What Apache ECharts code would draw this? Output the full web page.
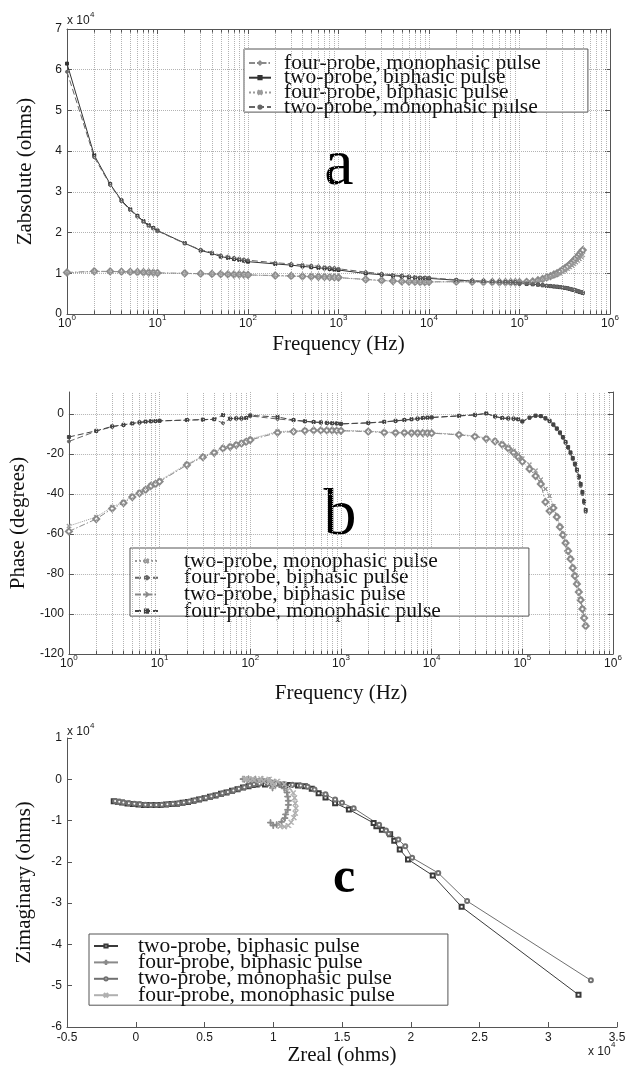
<!DOCTYPE html>
<html><head><meta charset="utf-8">
<script src="https://cdn.jsdelivr.net/npm/echarts@6/dist/echarts.min.js"></script>
<style>html,body{margin:0;padding:0;background:#fff}#c{width:632px;height:1068px}</style>
</head><body><div id="c"></div>
<script>
// ---------- data ----------
const freq = [1,2,3,4,5,6,7,8,9,
  10,20,30,40,50,60,70,80,90,
  100,200,300,400,500,600,700,800,900,
  1000,2000,3000,4000,5000,6000,7000,8000,9000,
  10000,20000,30000,40000,50000,60000,70000,80000,90000,
  100000,120000,140000,160000,180000,200000,220000,240000,260000,280000,300000,
  320000,340000,360000,380000,400000,420000,440000,460000,480000,500000];

// panel a : |Z| (ohms)
const absFourMono = [10200,10500,10450,10400,10350,10300,10250,10200,10150,
  10100,10000,9900,9850,9800,9750,9700,9700,9650,
  9600,9450,9350,9250,9200,9150,9100,9050,9000,
  8950,8500,8250,8100,8000,7950,7900,7850,7850,
  7900,7950,7900,7850,7850,7800,7800,7800,7800,
  7800,7900,8000,8300,8600,9000,9300,9700,10000,10400,10900,11300,11700,12200,12700,13200,13700,14200,14700,15200,15700];
const absTwoBi = [61500,39000,31900,27900,25700,24100,22800,21800,21100,
  20500,17400,15600,14900,14100,13800,13500,13300,13100,
  12850,12300,12000,11700,11500,11350,11200,11050,10900,
  10800,9950,9650,9400,9250,9100,8950,8850,8800,
  8750,8300,8100,8000,7950,7900,7850,7800,7750,
  7500,7400,7300,7200,7050,6900,6850,6750,6700,6600,6500,6400,6300,6150,6000,5900,5750,5600,5450,5350,5200];
const absFourBi = [10100,10400,10400,10350,10300,10250,10200,10150,10100,
  10050,9950,9850,9800,9750,9700,9650,9650,9600,
  9550,9400,9300,9200,9150,9100,9050,9000,8950,
  8900,8450,8200,8050,7950,7900,7850,7800,7800,
  7850,7900,7850,7800,7800,7750,7750,7750,7750,
  7750,7850,7950,8200,8500,8800,9100,9400,9700,10000,10400,10700,11100,11500,11900,12300,12700,13100,13500,14000,14500];
const absTwoMono = [59500,38500,31700,27700,25500,23900,22600,21600,21000,
  20400,17300,15800,15100,14400,14100,13800,13600,13400,
  13200,12600,12300,12100,11900,11700,11550,11400,11300,
  11100,10300,9900,9600,9400,9250,9100,9000,8950,
  8900,8400,8200,8050,7950,7900,7850,7800,7750,
  7550,7450,7350,7250,7100,6950,6900,6800,6700,6650,6550,6450,6350,6200,6050,5950,5800,5650,5500,5400,5250];

// panel b : phase (degrees)
const phTwoMono = [-56,-51.5,-46.5,-44,-41,-39.3,-37.5,-35.5,-34.6,
  -33.3,-25,-21.2,-19,-16.8,-16,-15.1,-14.3,-13.5,
  -12.5,-8.8,-8.5,-8.2,-8,-8,-8,-8,-8.1,
  -8.2,-8.6,-9,-9.1,-9.2,-9.2,-9.3,-9.3,-9.3,
  -9.4,-10.2,-11,-12,-13.3,-14.8,-16.5,-18.4,-20.2,
  -22.3,-25.3,-28.3,-32.8,-37.5,-41,-46,-51,-56,-60,-64,-68,-72,-76.5,-80.5,-84.5,-88.5,-92.5,-97,-101.5,-105.5];
const phFourBi = [-13.7,-8.6,-6.4,-5.5,-4.8,-4.3,-3.9,-3.7,-3.6,
  -3.5,-3.1,-2.9,-2.7,-4.5,-2.4,-2.3,-2.3,-2.1,
  -1,-2.5,-3.2,-3.7,-4.1,-4.3,-4.5,-4.7,-4.8,
  -5,-4.5,-4,-3.5,-3.1,-2.7,-2.4,-2.1,-1.9,
  -1.8,-1,-0.5,0.2,-1.3,-2.1,-2.3,-2.4,-2.7,
  -3.8,-2,-1,-1.2,-2.4,-3.8,-5.6,-7.6,-9.7,-12,-14.5,-17,-19.8,-22.6,-25.5,-28.5,-32,-36,-40,-44.5,-49];
const phTwoBi = [-58.7,-52.5,-47.3,-44.5,-41.5,-39.6,-37.9,-36,-35,
  -33.8,-25.5,-21.6,-19.4,-17.2,-16.4,-15.5,-14.7,-13.9,
  -13,-9.3,-8.8,-8.4,-8.2,-8.2,-8.2,-8.2,-8.3,
  -8.4,-8.8,-9.3,-9.4,-9.4,-9.5,-9.5,-9.5,-9.5,
  -9.6,-10.4,-11.3,-12.4,-13.7,-15.3,-17.2,-19.3,-21.5,
  -23.8,-27.5,-31,-35,-44,-48.5,-47,-51.5,-56.5,-60.5,-64.5,-68.5,-72.5,-77,-81,-85,-89,-93,-97.5,-102,-106];
const phFourMono = [-11.5,-8.4,-6.2,-5.4,-4.7,-4.2,-3.8,-3.6,-3.5,
  -3.4,-3,-2.8,-2.6,-0.5,-2.3,-2.2,-2.2,-2,
  -0.7,-1.5,-3,-3.6,-4,-4.2,-4.4,-4.6,-4.7,
  -4.9,-4.4,-3.9,-3.4,-3,-2.6,-2.3,-2,-1.8,
  -1.7,-0.9,-0.4,0.3,-1.2,-2,-2.2,-2.3,-2.6,
  -3.7,-1.8,-0.8,-1,-2.1,-3.4,-5.2,-7.2,-9.2,-11.5,-14,-16.5,-19.2,-22,-24.8,-27.8,-31.2,-35,-39,-43.5,-48];

// panel c : [Zreal, Zimaginary] (ohms)
const nyTwoBi = [[32200,-52200],[23700,-30900],[21600,-23300],[19800,-19400],[19200,-17000],[18800,-14900],[18500,-13300],[17900,-12200],[17500,-11400],[17300,-10600],[15500,-7300],[14500,-5800],[13800,-4400],[13300,-3400],[12800,-2300],[12300,-1700],[11800,-1500],[11200,-1400],[10600,-1350],[10000,-1300],[9400,-1250],[8800,-1250],[8500,-1400],[8200,-1700],[7800,-2000],[7400,-2400],[7000,-2800],[6600,-3200],[6200,-3500],[5800,-3900],[5400,-4200],[5000,-4600],[4600,-4900],[4200,-5200],[3800,-5500],[3400,-5700],[3000,-5900],[2600,-6000],[2200,-6100],[1800,-6200],[1400,-6250],[1000,-6250],[600,-6200],[200,-6100],[-200,-6000],[-600,-5850],[-1000,-5650],[-1300,-5450],[-1600,-5300]];
const nyFourBi = [[9950,-2100],[10000,-1400],[9950,-1000],[9800,-700],[9500,-600],[9200,-550],[9000,-500],[8700,-350],[8400,-200],[8100,-100],[7900,0],[7800,50],[8200,100],[8700,50],[9200,0],[9700,-300],[10100,-700],[10500,-1300],[10800,-2200],[11000,-3200],[11050,-4200],[11100,-5200],[11100,-6200],[11050,-7400],[10900,-8500],[10850,-9400],[10600,-10300],[10250,-11000],[10000,-11200],[9800,-10500]];
const nyTwoMono = [[33100,-48700],[24100,-29500],[22000,-22700],[20100,-19000],[19600,-16200],[19100,-14600],[18400,-13200],[18200,-12400],[17700,-11000],[15850,-7000],[15000,-5700],[14500,-4900],[13800,-3600],[13000,-2500],[12500,-1800],[12000,-1500],[11400,-1300],[10800,-1200],[10200,-1150],[9600,-1100],[9000,-1100],[8600,-1200],[8300,-1500],[7900,-1900],[7500,-2300],[7100,-2700],[6700,-3100],[6300,-3400],[5900,-3800],[5500,-4100],[5100,-4500],[4700,-4800],[4300,-5100],[3900,-5400],[3500,-5600],[3100,-5800],[2700,-5950],[2300,-6050],[1900,-6150],[1500,-6200],[1100,-6200],[700,-6150],[300,-6050],[-100,-5950],[-500,-5800],[-900,-5600],[-1200,-5450],[-1500,-5250]];
const nyFourMono = [[10000,-1800],[10050,-1200],[9950,-800],[9700,-550],[9300,-450],[9000,-350],[8600,-200],[8200,-50],[7900,50],[8000,100],[8500,150],[9100,100],[9700,0],[10300,-500],[10800,-1200],[11200,-2200],[11450,-3300],[11550,-4500],[11600,-5800],[11650,-7000],[11600,-8200],[11500,-9300],[11300,-10400],[11100,-11200],[10800,-11500],[10500,-11400]];

const namesA = ['four-probe, monophasic pulse','two-probe, biphasic pulse','four-probe, biphasic pulse','two-probe, monophasic pulse'];
const namesB = ['two-probe, monophasic pulse','four-probe, biphasic pulse','two-probe, biphasic pulse','four-probe, monophasic pulse'];
const namesC = ['two-probe, biphasic pulse','four-probe, biphasic pulse','two-probe, monophasic pulse','four-probe, monophasic pulse'];
const yTicksScale = 10000;

// ---------- style ----------
const SERIF = '"Liberation Serif","Times New Roman",serif';
const SANS = '"Liberation Sans",Arial,Helvetica,sans-serif';
const AX = '#555', GC = '#b3b3b3', TXT = '#1a1a1a';
const XSYM = 'path://M1,0L5,4L9,0L10,1L6,5L10,9L9,10L5,6L1,10L0,9L4,5L0,1Z';
const PLUS = 'path://M4.3,0H5.7V4.3H10V5.7H5.7V10H4.3V5.7H0V4.3H4.3Z';
const DASHDOT = [6,2,1.5,2];

const minorX = [];
for (let k = 0; k < 6; k++) for (let m = 2; m <= 9; m++) minorX.push(m * Math.pow(10, k));

const pair = arr => freq.map((f, i) => [f, arr[i]]);
const strip = n => n.slice(2);

const nameStyle = {fontFamily: SERIF, fontSize: 21, color: '#111'};
const logLabel = {
  formatter: v => '{m|10}{e|' + Math.round(Math.log10(v)) + '}', margin: 0,
  rich: {m: {fontFamily: SANS, fontSize: 12, color: TXT}, e: {fontFamily: SANS, fontSize: 8, color: TXT, padding: [0, 0, 12, 0]}}
};
const baseAxis = {
  axisLine: {show: true, onZero: false, lineStyle: {color: AX, width: 1}},
  axisTick: {show: true, inside: true, length: 5, lineStyle: {color: AX}}
};
function xLog(gi, extra) {
  return Object.assign({type: 'log', logBase: 10, gridIndex: gi, min: 1, max: 1e6, splitNumber: 6,
    splitLine: {show: true, lineStyle: {type: 'dotted', color: GC, width: 1}}, axisLabel: logLabel}, baseAxis, extra || {});
}
function yVal(gi, min, max, interval, extra) {
  return Object.assign({type: 'value', gridIndex: gi, min: min, max: max, interval: interval,
    axisLabel: {fontFamily: SANS, fontSize: 12, color: TXT, margin: 5}}, baseAxis, extra || {});
}
function mk(name, xi, yi, data, color, ltype, symbol, ssize, extra) {
  return Object.assign({type: 'line', name: name, xAxisIndex: xi, yAxisIndex: yi, data: data,
    showSymbol: true, symbol: symbol, symbolSize: ssize,
    itemStyle: {color: color, borderColor: color, borderWidth: 1},
    lineStyle: {color: color, width: 1, type: ltype},
    emphasis: {disabled: true}, silent: true, animation: false, z: 3}, extra || {});
}
const gridLines = {silent: true, animation: false, symbol: ['none', 'none'], label: {show: false},
  lineStyle: {type: 'dotted', color: GC, width: 1}, emphasis: {disabled: true},
  data: minorX.map(v => ({xAxis: v}))};
function tickLines(y0, y1) {
  const st = {type: 'solid', color: AX, width: 1};
  return minorX.map(v => [{coord: [v, y0], lineStyle: st}, {coord: [v, y1], lineStyle: st}]);
}
function legendBox(left, top, itemW, gap, pad, tpad, names) {
  return {orient: 'vertical', left: left, top: top, itemWidth: itemW, itemHeight: 4, itemGap: gap,
    padding: pad, borderColor: '#555', borderWidth: 1, backgroundColor: '#fff', selectedMode: false,
    textStyle: {fontFamily: SERIF, fontSize: 21.5, color: '#111', padding: [0, 0, 0, tpad]},
    formatter: strip, data: names};
}

const option = {
  backgroundColor: '#fff',
  animation: false,
  grid: [
    {left: 67, top: 29, width: 543, height: 285},
    {left: 67, top: 392, width: 546, height: 262},
    {left: 67, top: 738, width: 550, height: 289}
  ],
  xAxis: [
    xLog(0, {name: 'Frequency (Hz)', nameLocation: 'middle', nameGap: 20, nameTextStyle: nameStyle}),
    xLog(0, {position: 'top', axisLabel: {show: false}, splitLine: {show: false}}),
    xLog(1, {name: 'Frequency (Hz)', nameLocation: 'middle', nameGap: 29, nameTextStyle: nameStyle}),
    Object.assign({type: 'value', gridIndex: 2, min: -5000, max: 35000, interval: 5000, splitLine: {show: false},
      axisLabel: {fontFamily: SANS, fontSize: 12, color: TXT, margin: 5, formatter: v => String(v / yTicksScale)},
      name: 'Zreal (ohms)', nameLocation: 'middle', nameGap: 16, nameTextStyle: nameStyle}, baseAxis)
  ],
  yAxis: [
    yVal(0, 0, 70000, 10000, {splitLine: {show: true, lineStyle: {type: 'dotted', color: GC}},
      axisLabel: {fontFamily: SANS, fontSize: 12, color: TXT, margin: 5, formatter: v => String(v / yTicksScale)},
      name: 'Zabsolute (ohms)', nameLocation: 'middle', nameGap: 31, nameTextStyle: nameStyle}),
    yVal(0, 0, 70000, 10000, {position: 'right', axisLabel: {show: false}, splitLine: {show: false}}),
    yVal(1, -120, 11, 20, {splitLine: {show: true, showMaxLine: false, lineStyle: {type: 'dotted', color: GC}},
      axisLabel: {fontFamily: SANS, fontSize: 12, color: TXT, margin: 5, showMaxLabel: false},
      name: 'Phase (degrees)', nameLocation: 'middle', nameGap: 31, nameTextStyle: nameStyle}),
    yVal(1, -120, 11, 20, {position: 'right', axisLabel: {show: false}, splitLine: {show: false}}),
    yVal(2, -60000, 10000, 10000, {splitLine: {show: false},
      axisLabel: {fontFamily: SANS, fontSize: 12, color: TXT, margin: 5, formatter: v => String(v / yTicksScale)},
      name: 'Zimaginary (ohms)', nameLocation: 'middle', nameGap: 32, nameTextStyle: nameStyle})
  ],
  legend: [
    legendBox(244, 49, 22, -7.3, [3, 47, -6, 4], 8, namesA.map(n => 'a|' + n)),
    legendBox(130, 548, 23, -5.3, [2, 88, -6, 4], 21, namesB.map(n => 'b|' + n)),
    legendBox(89, 934, 24, -5.6, [1, 53, -1, 4], 15, namesC.map(n => 'c|' + n))
  ],
  series: [
    mk('a|' + namesA[0], 0, 0, pair(absFourMono), '#8a8a8a', DASHDOT, 'emptyDiamond', 6, {markLine: gridLines}),
    mk('a|' + namesA[1], 0, 0, pair(absTwoBi), '#333', 'solid', 'rect', 3,
      {markLine: Object.assign({}, gridLines, {data: tickLines(0, 900).concat(tickLines(70000, 69100))})}),
    mk('a|' + namesA[2], 0, 0, pair(absFourBi), '#9a9a9a', 'dotted', XSYM, 4),
    mk('a|' + namesA[3], 0, 0, pair(absTwoMono), '#666', [6, 3], 'circle', 3),

    mk('b|' + namesB[0], 2, 2, pair(phTwoMono), '#9a9a9a', 'dotted', XSYM, 4, {markLine: gridLines}),
    mk('b|' + namesB[1], 2, 2, pair(phFourBi), '#666', [6, 3], 'circle', 3,
      {markLine: Object.assign({}, gridLines, {data: tickLines(-120, -118.3)})}),
    mk('b|' + namesB[2], 2, 2, pair(phTwoBi), '#8a8a8a', DASHDOT, 'emptyDiamond', 6),
    mk('b|' + namesB[3], 2, 2, pair(phFourMono), '#444', [6, 3], 'rect', 3),

    mk('c|' + namesC[0], 3, 4, nyTwoBi, '#3a3a3a', 'solid', 'emptyRect', 4),
    mk('c|' + namesC[1], 3, 4, nyFourBi, '#8a8a8a', 'solid', PLUS, 6),
    mk('c|' + namesC[2], 3, 4, nyTwoMono, '#707070', 'solid', 'emptyCircle', 4),
    mk('c|' + namesC[3], 3, 4, nyFourMono, '#b0b0b0', 'solid', XSYM, 5)
  ],
  graphic: [
    {type: 'text', x: 339, y: 167, silent: true, style: {text: 'a', font: '66px ' + SERIF, fill: '#000', align: 'center', verticalAlign: 'middle'}},
    {type: 'text', x: 340, y: 517, silent: true, style: {text: 'b', font: '66px ' + SERIF, fill: '#000', align: 'center', verticalAlign: 'middle'}},
    {type: 'text', x: 344, y: 879, silent: true, style: {text: 'c', font: 'bold 50px ' + SERIF, fill: '#000', align: 'center', verticalAlign: 'middle'}},
    {type: 'text', x: 67, y: 21, silent: true, style: {text: 'x 10', font: '12px ' + SANS, fill: TXT, align: 'left', verticalAlign: 'middle'}},
    {type: 'text', x: 90, y: 15, silent: true, style: {text: '4', font: '8px ' + SANS, fill: TXT, align: 'left', verticalAlign: 'middle'}},
    {type: 'text', x: 67, y: 732, silent: true, style: {text: 'x 10', font: '12px ' + SANS, fill: TXT, align: 'left', verticalAlign: 'middle'}},
    {type: 'text', x: 90, y: 726, silent: true, style: {text: '4', font: '8px ' + SANS, fill: TXT, align: 'left', verticalAlign: 'middle'}},
    {type: 'text', x: 588, y: 1052, silent: true, style: {text: 'x 10', font: '12px ' + SANS, fill: TXT, align: 'left', verticalAlign: 'middle'}},
    {type: 'text', x: 611, y: 1045, silent: true, style: {text: '4', font: '8px ' + SANS, fill: TXT, align: 'left', verticalAlign: 'middle'}}
  ]
};
const chart = echarts.init(document.getElementById('c'), null, {renderer: 'canvas'});
chart.setOption(option);
</script></body></html>
